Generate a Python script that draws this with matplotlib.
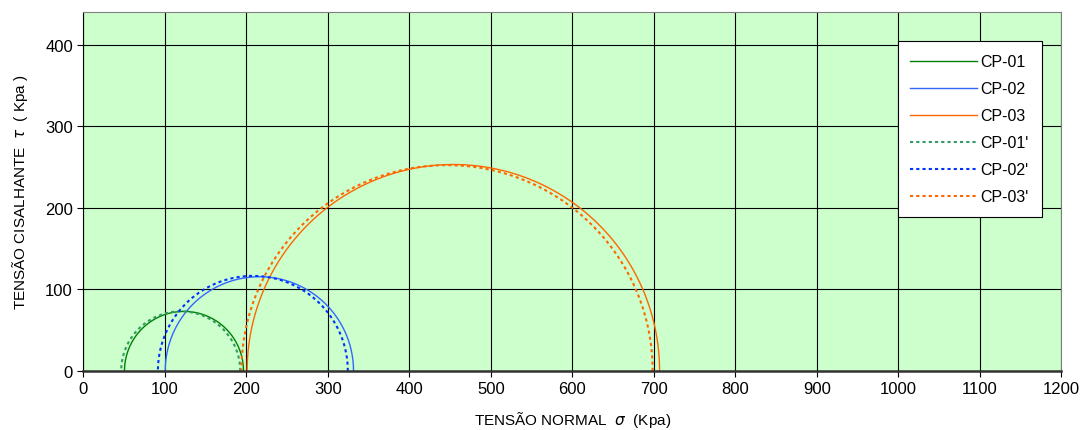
import numpy as np
from matplotlib import pyplot as plt

plt.rcParams['font.family'] = ['Liberation Sans', 'DejaVu Sans']

# tensões principais (kPa)
nomes = ['CP-01', 'CP-02', 'CP-03', "CP-01'", "CP-02'", "CP-03'"]
sigma3 = [50.5, 100.5, 201, 46.5, 91.5, 194]
sigma1 = [196.5, 331.5, 707, 192.5, 324.5, 698.5]
cores = ['#008000', '#3366FF', '#FF6600', '#339966', '#0033FF', '#FF6600']
estilos = ['-', '-', '-', (0, (1.5, 1.5)), (0, (1.5, 1.5)), (0, (1.5, 1.5))]

fig, ax = plt.subplots(figsize=(10.82, 4.31), dpi=100)
fig.subplots_adjust(left=0.077, right=0.981, bottom=0.137, top=0.97)
ax.set_facecolor('#CCFFCC')

t = np.linspace(0, np.pi, 400)
for n, s3, s1, c, ls in zip(nomes, sigma3, sigma1, cores, estilos):
    centro = (s1 + s3) / 2
    raio = (s1 - s3) / 2
    lw = 1.0 if ls == '-' else 1.5
    ax.plot(centro + raio * np.cos(t), raio * np.sin(t), color=c, ls=ls, lw=lw, label=n)

ax.set_xlim(0, 1200)
ax.set_ylim(0, 440)
ax.set_xticks(np.arange(0, 1201, 100))
ax.set_yticks(np.arange(0, 401, 100))
ax.grid(True, color='black', lw=0.8)
ax.set_axisbelow(True)
ax.tick_params(labelsize=12, direction='out', length=4)
ax.spines['bottom'].set_linewidth(1.8)
ax.spines['bottom'].set_color('#333333')
ax.spines['right'].set_color('#808080')
ax.spines['top'].set_color('#808080')

ax.set_xlabel('TENSÃO NORMAL  $\\sigma$  (Kpa)', fontsize=11, labelpad=9)
ax.set_ylabel('TENSÃO CISALHANTE  $\\tau$  ( Kpa )', fontsize=11, labelpad=11)

leg = ax.legend(loc='upper right', bbox_to_anchor=(0.988, 0.94), fontsize=11.5,
                frameon=True, fancybox=False, edgecolor='black', framealpha=1,
                handlelength=4.2, handletextpad=0.2, labelspacing=0.75, borderpad=0.8)
leg.get_frame().set_linewidth(0.8)

plt.savefig('out.png', dpi=100)
